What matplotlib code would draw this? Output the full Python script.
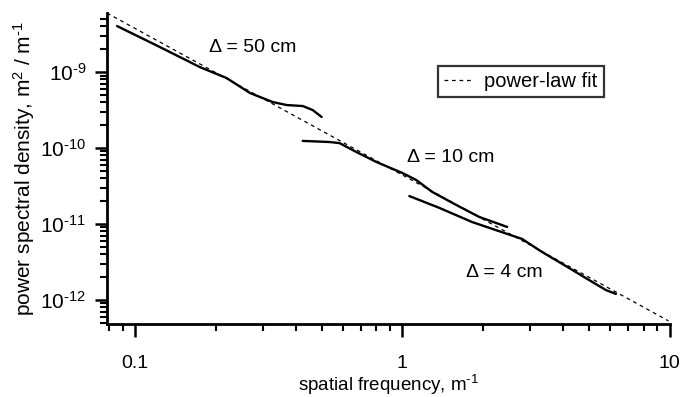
import numpy as np
import matplotlib
matplotlib.use("Agg")
import matplotlib.pyplot as plt
from matplotlib.ticker import LogLocator, NullFormatter, FixedLocator

plt.rcParams['font.family'] = ['Liberation Sans', 'DejaVu Sans']
plt.rcParams['mathtext.fontset'] = 'custom'
plt.rcParams['mathtext.rm'] = 'Liberation Sans'
plt.rcParams['mathtext.it'] = 'Liberation Sans'

# spectra (spatial frequency in 1/m, PSD in m^2/m^-1)
f_50 = [0.0857, 0.124, 0.175, 0.220, 0.269, 0.327, 0.369, 0.424, 0.462, 0.499]
psd_50 = [4.03e-9, 2.13e-9, 1.16e-9, 8.34e-10, 5.30e-10, 4.03e-10, 3.68e-10,
          3.57e-10, 3.16e-10, 2.56e-10]

f_10 = [0.424, 0.534, 0.582, 0.673, 0.800, 1.0, 1.127, 1.294, 1.590, 1.937, 2.465]
psd_10 = [1.24e-10, 1.20e-10, 1.16e-10, 8.86e-11, 6.54e-11, 4.69e-11, 3.79e-11,
          2.64e-11, 1.78e-11, 1.24e-11, 9.14e-12]

f_4 = [1.062, 1.374, 1.824, 2.804, 3.33, 4.20, 4.99, 5.77, 6.29]
psd_4 = [2.33e-11, 1.63e-11, 1.06e-11, 6.35e-12, 4.28e-12, 2.64e-12, 1.83e-12,
         1.35e-12, 1.20e-12]

# power-law fit end points
fit_f = [0.0786, 9.9]
fit_psd = [5.97e-9, 5.3e-13]

y_ticks = [1e-12, 1e-11, 1e-10, 1e-9]
y_ticklabels = [r'$10^{\text{-}12}$', r'$10^{\text{-}11}$',
                r'$10^{\text{-}10}$', r'$10^{\text{-}9}$']

fig = plt.figure(figsize=(6.82, 3.97), dpi=100)
ax = fig.add_axes([0.157, 0.184, 0.825, 0.783])

ax.plot(fit_f, fit_psd, color='black', lw=0.9, ls=(0, (3, 3)), label='power-law fit')
for f, p in [(f_50, psd_50), (f_10, psd_10), (f_4, psd_4)]:
    ax.plot(f, p, color='black', lw=1.7, solid_capstyle='round', solid_joinstyle='round')

ax.set_xscale('log')
ax.set_yscale('log')
ax.set_xlim(0.0786, 10)
ax.set_ylim(10**-12.316, 10**-8.224)

ax.spines['top'].set_visible(False)
ax.spines['right'].set_visible(False)
ax.spines['left'].set_linewidth(2)
ax.spines['bottom'].set_linewidth(2)

ax.xaxis.set_major_locator(FixedLocator([0.1, 1, 10]))
ax.set_xticklabels(['0.1', '1', '10'])
ax.xaxis.set_minor_locator(LogLocator(base=10, subs=np.arange(2, 10)))
ax.xaxis.set_minor_formatter(NullFormatter())
ax.yaxis.set_major_locator(FixedLocator(y_ticks))
ax.set_yticklabels(y_ticklabels)
ax.yaxis.set_minor_locator(LogLocator(base=10, subs=np.arange(2, 10)))
ax.yaxis.set_minor_formatter(NullFormatter())

ax.tick_params(axis='both', which='major', direction='out', length=9, width=1.8,
               colors='black')
ax.tick_params(axis='both', which='minor', direction='out', length=5, width=1.5)
ax.tick_params(axis='x', which='major', pad=13, labelsize=14)
ax.tick_params(axis='y', which='major', pad=6, labelsize=15)

ax.set_xlabel(r'spatial frequency, m$^{\text{-}1}$', fontsize=13.5, labelpad=1)
ax.set_ylabel(r'power spectral density, m$^{2}$ / m$^{\text{-}1}$', fontsize=15)
ax.yaxis.set_label_coords(-0.125, 0.5)

ax.text(0.276, 2.13e-9, '\u0394 = 50 cm', fontsize=14, ha='center', va='center')
ax.text(1.51, 7.6e-11, '\u0394 = 10 cm', fontsize=14, ha='center', va='center')
ax.text(2.40, 2.33e-12, '\u0394 = 4 cm', fontsize=14, ha='center', va='center')

leg = ax.legend(loc='upper left', bbox_to_anchor=(0.588, 0.83), fontsize=14.5,
                frameon=True, fancybox=False, handlelength=1.4, handletextpad=0.6,
                borderpad=0.3, borderaxespad=0)
leg.get_frame().set_edgecolor('black')
leg.get_frame().set_linewidth(1.6)

fig.savefig('out.png', dpi=100)
